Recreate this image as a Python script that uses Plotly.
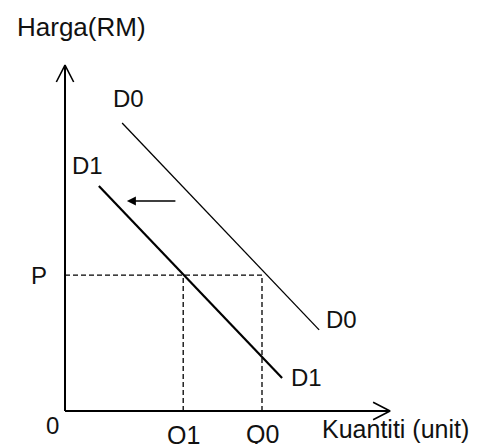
import plotly.graph_objects as go

# ---- data (economic units) ----
Q1 = 3.0
Q0 = 5.0
P = 3.45
d0_q = [1.45, 6.45]
d0_p = [7.31, 2.06]
d1_q = [0.86, 5.51]
d1_p = [5.71, 0.84]
shift_from = [2.84, 5.33]
shift_to = [1.57, 5.33]
x_axis_end = 8.25
y_axis_end = 8.78

FONT = "Liberation Sans, Arial, sans-serif"
U = 39.4      # pixels per unit
OFF = 8       # page body margin compensation

fig = go.Figure()

dash = dict(color="black", width=1.3, dash="5px,3px")
fig.add_trace(go.Scatter(x=[0, Q0], y=[P, P], mode="lines", line=dash, hoverinfo="skip"))
fig.add_trace(go.Scatter(x=[Q1, Q1], y=[0, P], mode="lines", line=dash, hoverinfo="skip"))
fig.add_trace(go.Scatter(x=[Q0, Q0], y=[0, P], mode="lines", line=dash, hoverinfo="skip"))

# demand curves
fig.add_trace(go.Scatter(x=d0_q, y=d0_p, mode="lines",
                         line=dict(color="black", width=1.3), hoverinfo="skip"))
fig.add_trace(go.Scatter(x=d1_q, y=d1_p, mode="lines",
                         line=dict(color="black", width=2.2), hoverinfo="skip"))

# axes
fig.add_trace(go.Scatter(x=[0, 0], y=[0, y_axis_end], mode="lines",
                         line=dict(color="black", width=2), hoverinfo="skip"))
fig.add_trace(go.Scatter(x=[0, x_axis_end], y=[0, 0], mode="lines",
                         line=dict(color="black", width=2), hoverinfo="skip"))
wb, ws = 0.43, 0.22
fig.add_trace(go.Scatter(x=[-ws, 0, ws], y=[y_axis_end - wb, y_axis_end, y_axis_end - wb],
                         mode="lines", line=dict(color="black", width=1.6), hoverinfo="skip"))
fig.add_trace(go.Scatter(x=[x_axis_end - wb, x_axis_end, x_axis_end - wb], y=[ws, 0, -ws],
                         mode="lines", line=dict(color="black", width=1.6), hoverinfo="skip"))

ann = []
def label(text, x, y, size=24, xanchor="center"):
    ann.append(dict(text=text, x=x, y=y, xref="x", yref="y", showarrow=False,
                    xanchor=xanchor, yanchor="middle",
                    font=dict(family=FONT, size=size, color="#111")))

label("Harga(RM)", -1.27, 9.75, size=26, xanchor="left")
label("D0", 1.60, 7.94)
label("D1", 0.58, 6.22)
label("P", -0.66, P)
label("0", -0.33, -0.36)
label("Q1", Q1, -0.62, size=25)
label("Q0", Q0, -0.58, size=25)
label("Kuantiti (unit)", 6.46, -0.46, size=25, xanchor="left")
label("D0", 7.03, 2.31)
label("D1", 6.14, 0.84)

ann.append(dict(x=shift_to[0], y=shift_to[1], ax=shift_from[0], ay=shift_from[1],
                xref="x", yref="y", axref="x", ayref="y", showarrow=True,
                arrowhead=2, arrowsize=1.2, arrowwidth=1.5, arrowcolor="black", text=""))

fig.update_layout(
    width=478, height=444,
    margin=dict(l=0, r=0, t=0, b=0),
    paper_bgcolor="white", plot_bgcolor="white",
    showlegend=False,
    annotations=ann,
    xaxis=dict(range=[-(65 - OFF) / U, (478 + OFF - 65) / U], visible=False, fixedrange=True),
    yaxis=dict(range=[-(444 + OFF - 411) / U, (411 - OFF) / U], visible=False, fixedrange=True),
)

fig.write_html("out.html")
